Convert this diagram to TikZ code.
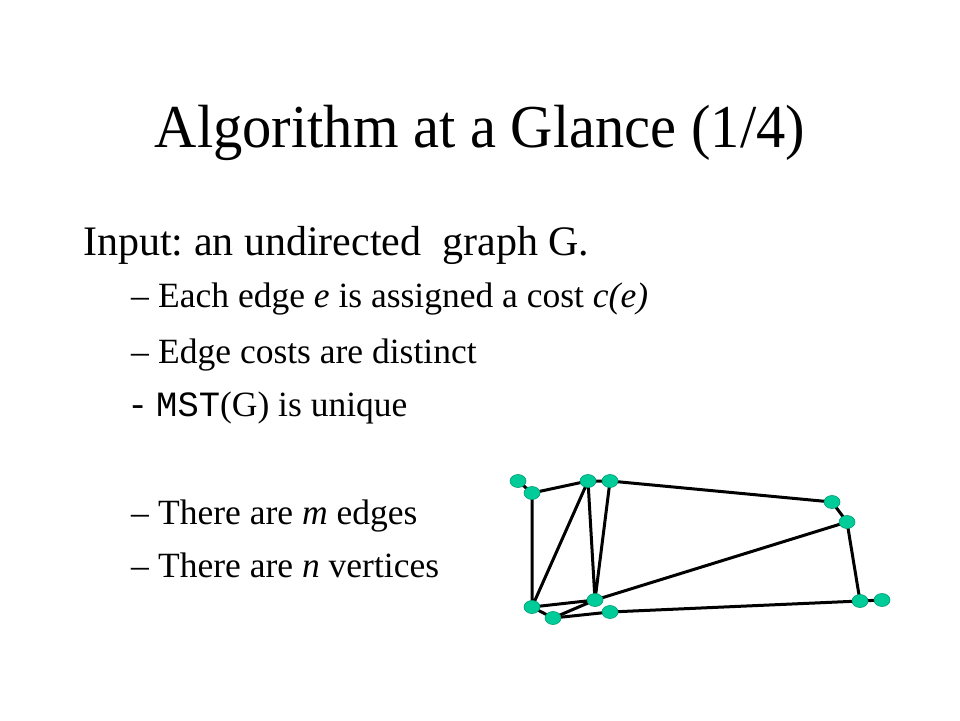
\documentclass[tikz,border=0pt]{standalone}
\usepackage{fontspec}
\setmainfont{Liberation Serif}
\setmonofont{Liberation Mono}
\frenchspacing
\definecolor{vgreen}{RGB}{0,204,153}
\tikzset{
  vtx/.style={ellipse, fill=vgreen, draw=vgreen!75!black, line width=0.6pt, minimum width=16pt, minimum height=13pt, inner sep=0pt},
  edg/.style={line width=3pt, black},
  txt/.style={anchor=base west, inner sep=0pt, font=\fontsize{35.5}{42}\selectfont}
}
\usetikzlibrary{shapes.geometric}
\begin{document}
\begin{tikzpicture}[x=1pt,y=-1pt]
\useasboundingbox (0,0) rectangle (960,720);
\node [anchor=base, inner sep=0pt, xscale=0.96, transform shape, font=\fontsize{61}{72}\selectfont] (title) at (480,147) {Algorithm at a Glance (1/4)};
\node [txt, font=\fontsize{42}{50}\selectfont] (input) at (83,255) {Input: an undirected~ graph G.};
\node [txt] (d1) at (131,307) {--};
\node [txt] (i1) at (158,307) {Each edge \textit{e} is assigned a cost \textit{c(e)}};
\node [txt] (d2) at (131,363) {--};
\node [txt] (i2) at (158,363) {Edge costs are distinct};
\node [txt] (d3) at (127,416) {\texttt{-}};
\node [txt] (i3) at (156,416) {\texttt{MST}(G) is unique};
\node [txt] (d4) at (131,524) {--};
\node [txt] (i4) at (158,524) {There are \textit{m} edges};
\node [txt] (d5) at (131,577) {--};
\node [txt] (i5) at (158,577) {There are \textit{n} vertices};
% the graph
\draw [edg] (518,481) -- (532,493) -- (588,481) -- (610,481) -- (832,502) -- (847,522) -- (860,601) -- (882,600);
\draw [edg] (532,493) -- (532,607) -- (588,481) -- (595,600) -- (610,481);
\draw [edg] (847,522) -- (595,600) -- (532,607) -- (553,618) -- (595,600);
\draw [edg] (553,618) -- (610,612) -- (860,601);
\node [vtx] (v1) at (518,481) {};
\node [vtx] (v2) at (532,493) {};
\node [vtx] (v3) at (588,481) {};
\node [vtx] (v4) at (610,481) {};
\node [vtx] (v5) at (832,502) {};
\node [vtx] (v6) at (847,522) {};
\node [vtx] (v7) at (532,607) {};
\node [vtx] (v8) at (553,618) {};
\node [vtx] (v9) at (595,600) {};
\node [vtx] (v10) at (610,612) {};
\node [vtx] (v11) at (860,601) {};
\node [vtx] (v12) at (882,600) {};
\end{tikzpicture}
\end{document}
